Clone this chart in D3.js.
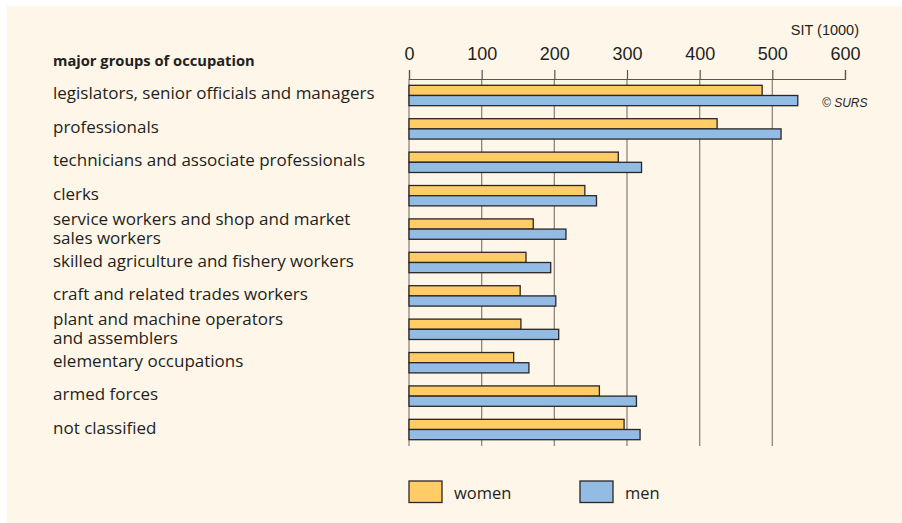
<!DOCTYPE html>
<html lang="en">
<head>
<meta charset="UTF-8">
<title>Gross earnings by major groups of occupation</title>
<script src="https://d3js.org/d3.v7.min.js"></script>
<style>
  body { margin: 0; background: #ffffff; }
  svg text { fill: #231f20; }
</style>
</head>
<body>
<svg id="chart" width="902" height="523"></svg>
<script>
// occupation groups (two-line labels split with "|")
var categories = [
    "legislators, senior officials and managers",
    "professionals",
    "technicians and associate professionals",
    "clerks",
    "service workers and shop and market|sales workers",
    "skilled agriculture and fishery workers",
    "craft and related trades workers",
    "plant and machine operators|and assemblers",
    "elementary occupations",
    "armed forces",
    "not classified"
];
var women = [486, 424, 288, 242, 171, 161, 153, 154, 144, 262, 296];
var men   = [535, 512, 320, 258, 216, 195, 202, 206, 165, 313, 318];
var tickValues = [0, 100, 200, 300, 400, 500, 600];
var seriesNames = ["women", "men"];
var seriesColors = ["#ffcc66", "#93bce4"];

var svg = d3.select("#chart");

// cream panel
svg.append("rect")
    .attr("x", 7).attr("y", 6)
    .attr("width", 895).attr("height", 517)
    .attr("fill", "#fef6e9");

var x = d3.scaleLinear().domain([0, 600]).range([409, 845]);

var y = d3.scaleBand()
    .domain(categories)
    .range([85.3, 439.7])
    .paddingInner(0.39)
    .paddingOuter(0);

var ySub = d3.scaleBand()
    .domain(seriesNames)
    .range([0, y.bandwidth()]);

var color = d3.scaleOrdinal().domain(seriesNames).range(seriesColors);

// gridlines (no line under 600)
svg.append("g")
    .selectAll("line")
    .data(tickValues.filter(d => d < 600))
    .enter().append("line")
    .attr("x1", d => x(d)).attr("x2", d => x(d))
    .attr("y1", 79).attr("y2", 446)
    .attr("stroke", "#8c8580")
    .attr("stroke-width", 1.3);

// top axis
var axis = d3.axisTop(x)
    .tickValues(tickValues)
    .tickFormat(d3.format("d"))
    .tickSize(9)
    .tickSizeOuter(9)
    .tickPadding(10);

var axisG = svg.append("g")
    .attr("transform", "translate(0,79)")
    .call(axis);
axisG.selectAll("path, line")
    .attr("stroke", "#5a5450")
    .attr("stroke-width", 1.2);
axisG.selectAll("text")
    .attr("font-family", "'Liberation Sans', Arial, sans-serif")
    .attr("font-size", 18)
    .attr("fill", "#231f20");

// bars
var rows = categories.map((c, i) => ({ cat: c, women: women[i], men: men[i] }));

var groups = svg.append("g")
    .selectAll("g")
    .data(rows)
    .enter().append("g")
    .attr("transform", d => "translate(0," + y(d.cat) + ")");

groups.selectAll("rect")
    .data(d => seriesNames.map(s => ({ key: s, value: d[s] })))
    .enter().append("rect")
    .attr("x", x(0))
    .attr("y", d => ySub(d.key))
    .attr("width", d => x(d.value) - x(0))
    .attr("height", ySub.bandwidth())
    .attr("fill", d => color(d.key))
    .attr("stroke", "#2b2626")
    .attr("stroke-width", 1.3);

// category labels
var labels = svg.append("g")
    .selectAll("text")
    .data(categories)
    .enter().append("text")
    .attr("x", 53)
    .attr("font-family", "'Open Sans', 'Noto Sans', sans-serif")
    .attr("font-size", 17)
    .attr("dominant-baseline", "central");

labels.each(function(d) {
    var parts = d.split("|");
    var cy = y(d) + y.bandwidth() / 2;
    var t = d3.select(this);
    if (parts.length === 1) {
        t.attr("y", cy - 2.5).text(d);
    } else {
        t.append("tspan").attr("x", 53).attr("y", cy - 11).text(parts[0]);
        t.append("tspan").attr("x", 53).attr("y", cy + 8).text(parts[1]);
    }
});

// header texts
svg.append("text")
    .attr("x", 53).attr("y", 60)
    .attr("dominant-baseline", "central")
    .attr("font-family", "'Open Sans', 'Noto Sans', sans-serif")
    .attr("font-weight", "bold")
    .attr("font-size", 14.7)
    .text("major groups of occupation");

svg.append("text")
    .attr("x", 859).attr("y", 30)
    .attr("dominant-baseline", "central")
    .attr("text-anchor", "end")
    .attr("font-family", "'Liberation Sans', Arial, sans-serif")
    .attr("font-size", 14.5)
    .text("SIT (1000)");

svg.append("text")
    .attr("x", 822).attr("y", 103)
    .attr("dominant-baseline", "central")
    .attr("font-family", "'Liberation Sans', Arial, sans-serif")
    .attr("font-style", "italic")
    .attr("font-size", 12)
    .text("\u00a9 SURS");

// legend
var legendX = [409, 580];
var legend = svg.append("g")
    .selectAll("g")
    .data(seriesNames)
    .enter().append("g")
    .attr("transform", (d, i) => "translate(" + legendX[i] + ",481)");

legend.append("rect")
    .attr("width", 33).attr("height", 21.5)
    .attr("fill", d => color(d))
    .attr("stroke", "#2b2626")
    .attr("stroke-width", 1.3);

legend.append("text")
    .attr("x", 45).attr("y", 11.5)
    .attr("dominant-baseline", "central")
    .attr("font-family", "'Open Sans', 'Noto Sans', sans-serif")
    .attr("font-size", 16.5)
    .text(d => d);
</script>
</body>
</html>
